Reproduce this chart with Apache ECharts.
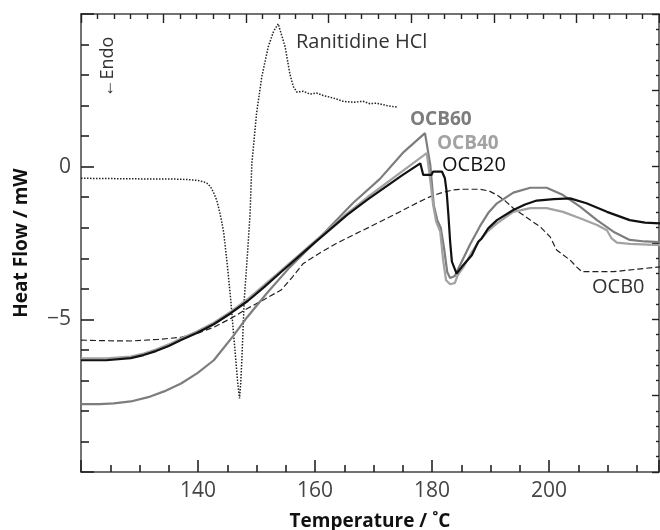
<!DOCTYPE html>
<html><head><meta charset="utf-8">
<script src="https://cdn.jsdelivr.net/npm/echarts@6/dist/echarts.min.js"></script>
<style>html,body{margin:0;padding:0;background:#fff}#c{width:660px;height:530px}</style>
</head><body><div id="c"></div>
<script>
// Temperature (°C), Heat flow (mW)
const ranitidine = [[120,-0.38],[125,-0.39],[130,-0.40],[135,-0.40],[138,-0.42],[140,-0.45],[141,-0.50],[141.7,-0.56],[142.2,-0.68],[142.7,-0.86],[143.2,-1.10],[143.6,-1.40],[144.0,-1.75],[144.4,-2.17],[145.0,-3.2],[145.6,-4.37],[146.0,-5.3],[146.4,-6.2],[146.8,-7.1],[147.1,-7.59],[147.3,-7.1],[147.5,-6.3],[147.9,-4.37],[148.5,-2.73],[148.9,-1.55],[149.2,0.09],[150.0,1.73],[150.9,2.94],[152.0,3.92],[152.9,4.42],[153.7,4.68],[154.9,3.92],[155.7,3.04],[156.3,2.62],[156.9,2.44],[158.0,2.47],[159.1,2.38],[160.3,2.41],[161.4,2.33],[163.1,2.25],[164.8,2.14],[166.5,2.11],[168.2,2.14],[169.4,2.06],[170.5,2.08],[172.3,2.00],[174.0,1.95]];
const ocb0 = [[120,-5.68],[124,-5.70],[128.5,-5.71],[133,-5.66],[137.1,-5.59],[140,-5.45],[142.8,-5.25],[145.7,-4.96],[148.5,-4.64],[151.4,-4.34],[154.2,-4.04],[156.2,-3.60],[158.0,-3.17],[160.9,-2.82],[163.7,-2.51],[166.6,-2.23],[169.4,-1.97],[172.3,-1.69],[175.1,-1.42],[177.5,-1.18],[179.7,-0.98],[181.7,-0.85],[183.6,-0.76],[185.3,-0.74],[188.2,-0.74],[189.8,-0.80],[191.1,-0.93],[192.5,-1.12],[193.9,-1.36],[195.4,-1.56],[196.8,-1.75],[198.5,-1.97],[200.2,-2.30],[201.3,-2.73],[203.6,-3.06],[204.7,-3.28],[205.6,-3.44],[211.0,-3.44],[219.0,-3.28]];
const ocb20 = [[120,-6.34],[124.3,-6.34],[128.5,-6.27],[130.7,-6.17],[132.8,-6.04],[135,-5.87],[137.1,-5.68],[139.8,-5.45],[142.7,-5.16],[145.6,-4.80],[148.5,-4.40],[151.4,-3.93],[154.2,-3.45],[159.7,-2.53],[165.5,-1.58],[168.9,-1.09],[175.0,-0.27],[178.0,0.11],[178.2,0.06],[178.5,-0.27],[179.9,-0.27],[180.2,-0.16],[181.7,-0.16],[182.2,-0.38],[182.5,-0.82],[182.8,-1.58],[183.1,-2.46],[183.4,-3.11],[184.2,-3.50],[185.1,-3.28],[186.8,-2.90],[187.9,-2.46],[188.5,-2.35],[188.7,-2.40],[189.6,-2.02],[191.1,-1.75],[193.9,-1.42],[195.9,-1.24],[197.9,-1.11],[200.8,-1.06],[203.6,-1.04],[206.4,-1.20],[209.9,-1.48],[213.8,-1.75],[216.4,-1.83],[219.0,-1.86]];
const ocb40 = [[120,-6.28],[124.3,-6.28],[128.5,-6.22],[130.7,-6.12],[132.8,-5.99],[135,-5.82],[137.1,-5.63],[139.8,-5.40],[142.7,-5.11],[145.6,-4.75],[148.4,-4.35],[151.3,-3.88],[154.2,-3.40],[159.7,-2.49],[165.5,-1.53],[168.9,-1.01],[175.0,-0.14],[179.1,0.44],[179.7,-0.44],[180.2,-1.26],[180.7,-1.80],[181.4,-2.13],[181.9,-3.06],[182.4,-3.72],[183.1,-3.85],[183.9,-3.81],[184.4,-3.55],[185.4,-3.28],[186.8,-2.80],[188.2,-2.40],[189.6,-2.10],[191.1,-1.86],[193.9,-1.48],[196.8,-1.36],[199.6,-1.36],[202.4,-1.48],[205.3,-1.69],[208.2,-1.91],[209.9,-2.08],[210.7,-2.35],[211.6,-2.49],[213.8,-2.53],[219.0,-2.57]];
const ocb60 = [[120,-7.78],[123.2,-7.78],[125.6,-7.75],[128.5,-7.69],[131.5,-7.55],[134.2,-7.36],[137.1,-7.10],[139.9,-6.76],[142.7,-6.34],[146.0,-5.55],[148.4,-4.93],[151.8,-4.14],[155.7,-3.29],[160.9,-2.30],[166.5,-1.19],[171.1,-0.40],[175.0,0.45],[178.8,1.10],[179.7,0.06],[180.3,-1.26],[180.9,-1.75],[181.5,-2.01],[182.1,-2.73],[182.6,-3.45],[183.1,-3.65],[183.9,-3.58],[184.8,-3.22],[186.5,-2.55],[188.2,-1.95],[189.6,-1.52],[191.1,-1.20],[193.9,-0.85],[196.8,-0.69],[199.6,-0.69],[202.4,-0.93],[205.3,-1.31],[208.2,-1.75],[211.0,-2.13],[213.8,-2.40],[216.4,-2.45],[219.0,-2.47]];
const xTicks = [140,160,180,200];
const yTicks = [-5,0];

const FONT = '"Open Sans", "Noto Sans", sans-serif';
const chart = echarts.init(document.getElementById('c'), null, {renderer:'canvas'});
const axisCol = '#444';
const tickCol = '#222';
const option = {
  animation:false,
  grid:{left:81,right:1,top:14,bottom:58,containLabel:false,outerBoundsMode:'none'},
  xAxis:[{
    type:'value', min:120, max:218.8, interval:20, position:'bottom',
    name:'Temperature / ˚C', nameLocation:'middle', nameGap:40,
    nameTextStyle:{fontFamily:FONT,fontWeight:'bold',fontSize:19,color:'#111'},
    axisLine:{show:true,onZero:false,lineStyle:{color:axisCol,width:1.5}},
    axisTick:{show:true,inside:true,length:12,lineStyle:{color:tickCol,width:1.6}},
    minorTick:{show:true,splitNumber:4,length:7,lineStyle:{color:tickCol,width:1.6}},
    axisLabel:{show:true,margin:9,fontFamily:FONT,fontSize:21,color:'#444',showMinLabel:false,showMaxLabel:false,
      formatter:v=>xTicks.indexOf(v)>=0?String(v):''},
    splitLine:{show:false}
  },{
    type:'value', min:0, max:7, interval:1, position:'top',
    axisLine:{show:true,onZero:false,lineStyle:{color:axisCol,width:1.5}},
    axisTick:{show:true,inside:true,length:9,lineStyle:{color:tickCol,width:1.4}},
    minorTick:{show:true,splitNumber:5,length:5,lineStyle:{color:tickCol,width:1.4}},
    axisLabel:{show:false},splitLine:{show:false}
  }],
  yAxis:[{
    type:'value', min:-10, max:5, interval:5, position:'left',
    name:'Heat Flow / mW', nameLocation:'middle', nameGap:50, nameRotate:90,
    nameTextStyle:{fontFamily:FONT,fontWeight:'bold',fontSize:19,color:'#111'},
    axisLine:{show:true,onZero:false,lineStyle:{color:axisCol,width:1.5}},
    axisTick:{show:true,inside:true,length:13,lineStyle:{color:tickCol,width:1.6}},
    minorTick:{show:true,splitNumber:5,length:8,lineStyle:{color:tickCol,width:1.6}},
    axisLabel:{show:true,margin:10,fontFamily:FONT,fontSize:21,color:'#444',showMinLabel:false,showMaxLabel:false,
      formatter:v=>yTicks.indexOf(v)>=0?(v<0?'\u2212'+Math.abs(v):String(v)):''},
    splitLine:{show:false}
  },{
    type:'value', min:-10, max:5, interval:2.5, position:'right',
    axisLine:{show:true,onZero:false,lineStyle:{color:axisCol,width:1.5}},
    axisTick:{show:true,inside:true,length:7,lineStyle:{color:tickCol,width:1.4}},
    minorTick:{show:true,splitNumber:5,length:3,lineStyle:{color:tickCol,width:1.4}},
    axisLabel:{show:false},splitLine:{show:false}
  }],
  series:[
    {name:'OCB0',type:'line',data:ocb0,showSymbol:false,symbol:'none',lineStyle:{color:'#222',width:1.2,type:[6,3]}},
    {name:'Ranitidine HCl',type:'line',data:ranitidine,showSymbol:false,symbol:'none',lineStyle:{color:'#222',width:1.5,type:[1.5,1.5]}},
    {name:'OCB60',type:'line',data:ocb60,showSymbol:false,symbol:'none',lineStyle:{color:'#7d7d7d',width:2.2}},
    {name:'OCB40',type:'line',data:ocb40,showSymbol:false,symbol:'none',lineStyle:{color:'#a2a2a2',width:2.2}},
    {name:'OCB20',type:'line',data:ocb20,showSymbol:false,symbol:'none',lineStyle:{color:'#111',width:2.2}}
  ],
  graphic:[
    {type:'text',x:99,y:67,rotation:Math.PI/2,style:{text:'\u2190Endo',font:'18px '+FONT,fill:'#333',textAlign:'center',textVerticalAlign:'top'}},
    {type:'text',left:296,top:32,style:{text:'Ranitidine HCl',font:'20px '+FONT,fill:'#333'}},
    {type:'text',left:410,top:110,style:{text:'OCB60',font:'bold 19px '+FONT,fill:'#7d7d7d'}},
    {type:'text',left:437,top:134,style:{text:'OCB40',font:'bold 19px '+FONT,fill:'#a2a2a2'}},
    {type:'text',left:442,top:155,style:{text:'OCB20',font:'20px '+FONT,fill:'#111'}},
    {type:'text',left:592,top:277,style:{text:'OCB0',font:'20px '+FONT,fill:'#333'}}
  ]
};
chart.setOption(option);
</script></body></html>
